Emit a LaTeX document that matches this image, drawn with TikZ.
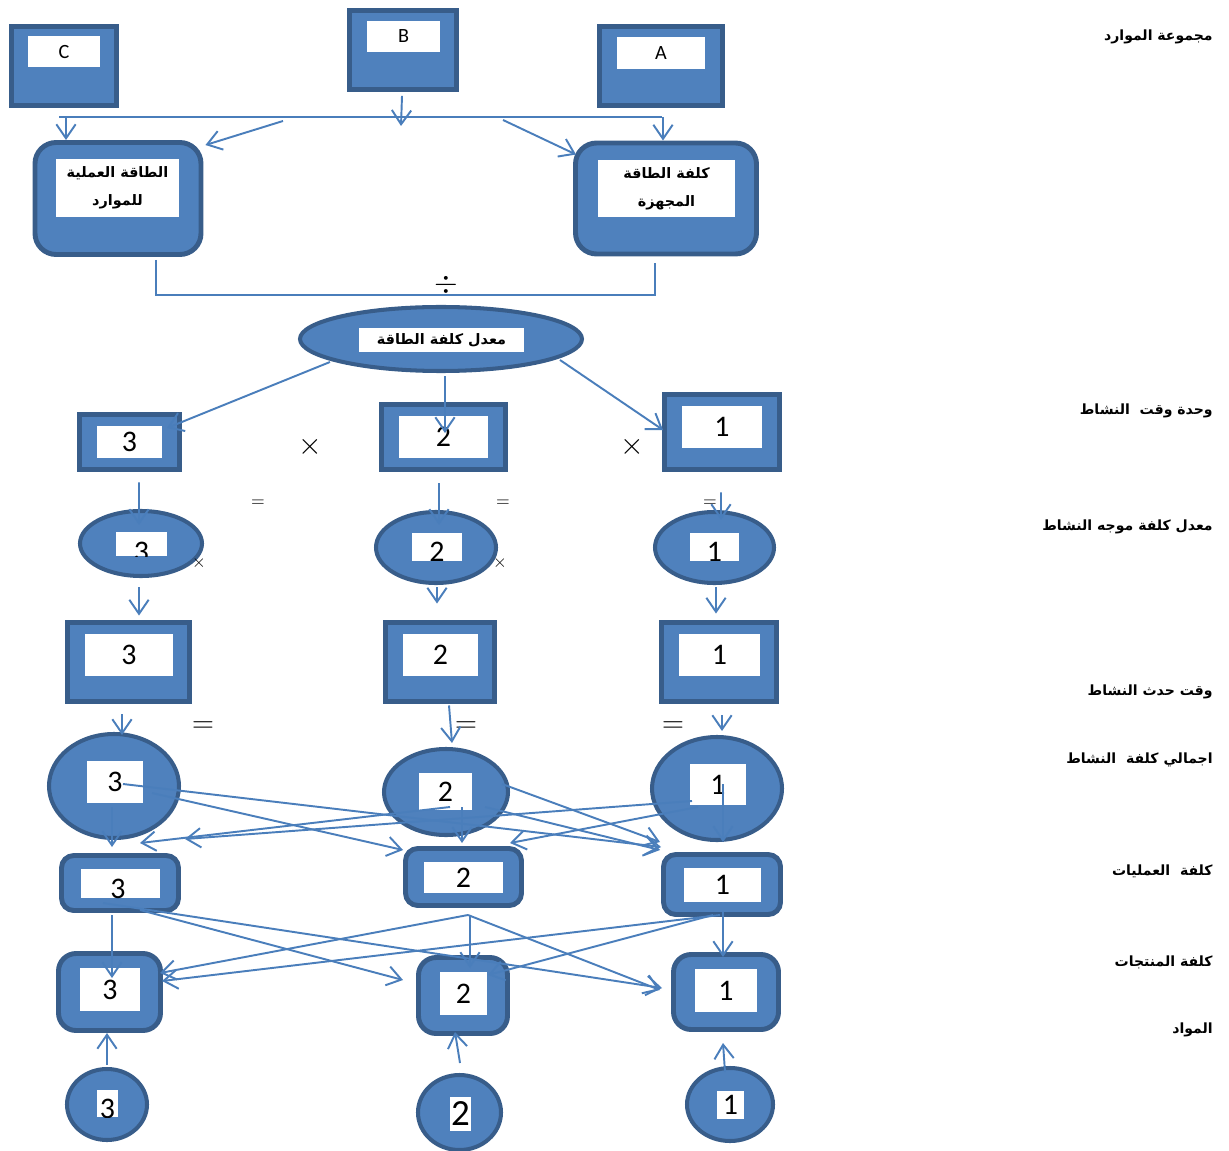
\documentclass[tikz,border=0pt]{standalone}
\usepackage{fontspec}
\usetikzlibrary{shapes.geometric,arrows.meta,calc}
\newfontfamily\arabicfont[Script=Arabic]{DejaVu Sans}
\newfontfamily\numfont{Carlito}
\TeXXeTstate=1
\definecolor{boxblue}{HTML}{4F81BD}
\definecolor{boxedge}{HTML}{385D8A}
\definecolor{linkblue}{HTML}{4A7EBB}
\newcommand{\rtl}[1]{\beginR#1\endR}

\begin{document}
\begin{tikzpicture}[x=0.02cm,y=-0.02cm,
    sz/.style 2 args={minimum width=#1*0.02cm,minimum height=#2*0.02cm},
    unit/.style={draw=boxedge,fill=boxblue,line width=2.8pt,inner sep=0pt},
    runit/.style={unit,rounded corners=7pt},
    bigunit/.style={unit,rounded corners=12pt},
    oval/.style={ellipse,draw=boxedge,fill=boxblue,line width=2.3pt,inner sep=0pt},
    tag/.style={fill=white,inner sep=0pt,font=\numfont\fontsize{17}{17}\selectfont},
    abc/.style={tag,font=\numfont\fontsize{11.5}{12}\selectfont},
    artag/.style={tag,align=center,font=\arabicfont\bfseries\fontsize{8.2}{16}\selectfont},
    side/.style={anchor=east,inner sep=0pt,font=\arabicfont\bfseries\fontsize{8}{9}\selectfont},
    opsign/.style={inner sep=0pt,font=\fontsize{16}{16}\selectfont},
    smallsign/.style={inner sep=0pt,font=\fontsize{10}{10}\selectfont},
    link/.style={draw=linkblue,line width=1.1pt},
    arr/.style={link,-{Straight Barb[length=8pt,width=11pt]}}]
  \useasboundingbox (0,0) rectangle (1229,1151);

  % resource pools
  \node[unit,sz={105}{79}] (resC) at (64,66) {};
  \node[unit,sz={107}{79}] (resB) at (403,50) {};
  \node[unit,sz={123}{79}] (resA) at (661,66) {};
  \node[abc,sz={72}{31}] (resCt) at (64,52) {C};
  \node[abc,sz={73}{31}] (resBt) at (403.5,36.5) {B};
  \node[abc,sz={88}{32}] (resAt) at (661,53) {A};

  % capacity
  \node[bigunit,sz={166}{112}] (labour) at (118,198.5) {};
  \node[bigunit,sz={181}{111}] (equip) at (666,198.5) {};
  \node[artag,sz={123}{58}] (labourt) at (117.5,188) {\rtl{الطاقة العملية}\\\rtl{للموارد}};
  \node[artag,sz={137}{57}] (equipt) at (666.5,188.5) {\rtl{كلفة الطاقة}\\\rtl{المجهزة}};

  \node[oval,sz={282}{64}] (rate) at (441,339) {};
  \node[artag,sz={165}{24}] (ratet) at (441.5,340) {\rtl{معدل كلفة الطاقة}};

  % activity time units
  \node[unit,sz={100}{55}] (ut3) at (129.5,442) {};
  \node[unit,sz={124}{65}] (ut2) at (443.5,437) {};
  \node[unit,sz={115}{75}] (ut1) at (722,432) {};
  \node[tag,sz={65}{32}] (ut3t) at (129.5,442) {3};
  \node[tag,sz={89}{42}] (ut2t) at (443.5,437) {2};
  \node[tag,sz={80}{42}] (ut1t) at (722,427) {1};

  % driver rates
  \node[oval,sz={122}{65}] (dr3) at (141,543.5) {};
  \node[oval,sz={120}{71}] (dr2) at (436,547.5) {};
  \node[oval,sz={119}{71}] (dr1) at (714.5,547.5) {};
  \node[tag,sz={51}{24}] (dr3t) at (141.5,544) {};
  \node[tag,sz={50}{28}] (dr2t) at (437,547) {};
  \node[tag,sz={49}{28}] (dr1t) at (714.5,547) {};
  \begin{scope}
    \clip (dr3t.south west) rectangle (dr3t.north east);
    \node[tag,fill=none] (dr3n) at ($(dr3t)+(0,8)$) {3};
  \end{scope}
  \begin{scope}
    \clip (dr2t.south west) rectangle (dr2t.north east);
    \node[tag,fill=none] (dr2n) at ($(dr2t)+(0,5)$) {2};
  \end{scope}
  \begin{scope}
    \clip (dr1t.south west) rectangle (dr1t.north east);
    \node[tag,fill=none] (dr1n) at ($(dr1t)+(0,5)$) {1};
  \end{scope}

  % event times
  \node[unit,sz={122}{79}] (at3) at (128.5,662) {};
  \node[unit,sz={109}{79}] (at2) at (440,662) {};
  \node[unit,sz={115}{79}] (at1) at (719,662) {};
  \node[tag,sz={88}{42}] (at3t) at (129,655) {3};
  \node[tag,sz={75}{42}] (at2t) at (440.5,655) {2};
  \node[tag,sz={81}{42}] (at1t) at (719.5,655) {1};

  % total activity cost
  \node[oval,sz={130}{104}] (tc3) at (114,786) {};
  \node[oval,sz={124}{86}] (tc2) at (446,792) {};
  \node[oval,sz={130}{103}] (tc1) at (717,788.5) {};
  \node[tag,sz={56}{42}] (tc3t) at (115,782) {3};
  \node[tag,sz={53}{37}] (tc2t) at (445.5,791.5) {2};
  \node[tag,sz={56}{41}] (tc1t) at (718,784.5) {1};

  % operations
  \node[runit,sz={117}{55}] (op3) at (120,883) {};
  \node[runit,sz={116}{57}] (op2) at (463.5,877) {};
  \node[runit,sz={117}{60}] (op1) at (722,884.5) {};
  \node[tag,sz={79}{29}] (op3t) at (120,883.5) {};
  \begin{scope}
    \clip (op3t.south west) rectangle (op3t.north east);
    \node[tag,fill=none] (op3n) at ($(op3t)+(-2,5)$) {3};
  \end{scope}
  \node[tag,sz={79}{31}] (op2t) at (463.5,877.5) {2};
  \node[tag,sz={77}{34}] (op1t) at (722.5,885) {1};

  % products
  \node[runit,sz={102}{77},rounded corners=10pt] (pc3) at (109.5,992) {};
  \node[runit,sz={89}{76},rounded corners=10pt] (pc2) at (463,995.5) {};
  \node[runit,sz={105}{75},rounded corners=10pt] (pc1) at (726,992) {};
  \node[tag,sz={60}{43}] (pc3t) at (110,989.5) {3};
  \node[tag,sz={47}{43}] (pc2t) at (463.5,993.5) {2};
  \node[tag,sz={62}{43}] (pc1t) at (726,990.5) {1};

  % materials
  \node[oval,sz={80}{71}] (m3) at (107,1104.5) {};
  \node[oval,sz={83}{75}] (m2) at (459.5,1112.5) {};
  \node[oval,sz={86}{73}] (m1) at (730,1104.5) {};
  \node[tag,sz={21}{27}] (m3t) at (107.5,1103.5) {};
  \begin{scope}
    \clip (m3t.south west) rectangle (m3t.north east);
    \node[tag,fill=none] (m3n) at ($(m3t)+(0,5)$) {3};
  \end{scope}
  \node[tag,sz={21}{34},font=\numfont\fontsize{21}{21}\selectfont] (m2t) at (460.5,1114) {2};
  \node[tag,sz={27}{28}] (m1t) at (730.5,1105) {1};

  % operators
  \node[opsign] (divsign) at (446,285) {$\div$};
  \node[opsign] (times1) at (310,447) {$\times$};
  \node[opsign] (times2) at (632,447) {$\times$};
  \node[smallsign] (eqa) at (258,503) {$=$};
  \node[smallsign] (eqb) at (503,503) {$=$};
  \node[smallsign] (eqc) at (710,503) {$=$};
  \node[smallsign] (timesa) at (199,563) {$\times$};
  \node[smallsign] (timesb) at (500,563) {$\times$};
  \node[opsign,font=\fontsize{18}{18}\selectfont] (eqd) at (203,727) {$=$};
  \node[opsign,font=\fontsize{18}{18}\selectfont] (eqe) at (466,727) {$=$};
  \node[opsign,font=\fontsize{18}{18}\selectfont] (eqf) at (673,727) {$=$};

  % level names
  \node[side] (lblpool) at (1213,37) {\rtl{مجموعة الموارد}};
  \node[side] (lblunit) at (1213,411) {\rtl{وحدة وقت\ \ النشاط}};
  \node[side] (lbldriver) at (1213,527) {\rtl{معدل كلفة موجه النشاط}};
  \node[side] (lblevent) at (1213,692) {\rtl{وقت حدث النشاط}};
  \node[side] (lbltotal) at (1213,760) {\rtl{اجمالي كلفة\ \ النشاط}};
  \node[side] (lblops) at (1213,871) {\rtl{كلفة\ \ العمليات}};
  \node[side] (lblprod) at (1213,962) {\rtl{كلفة المنتجات}};
  \node[side] (lblmat) at (1213,1030) {\rtl{المواد}};

  % resource bus
  \coordinate (busW) at (59,117);
  \coordinate (busE) at (662,117);
  \coordinate (busC) at (66,117);
  \coordinate (busA) at (663,117);
  \coordinate (busL) at (283,121);
  \coordinate (busR) at (503,120);
  \coordinate (bTip) at (401,126);
  \draw[link] (busW) -- (busE);
  \draw[arr] (busC) -- (busC |- labour.north);
  \draw[arr] (busA) -- (busA |- equip.north);
  \draw[arr] ($(resB.south)+(-1,4)$) -- (bTip);
  \draw[arr] (busL) -- ($(labour.north east)+(2,5)$);
  \draw[arr] (busR) -- ($(equip.north west)+(3,14)$);
  \draw[link] ($(labour.south)+(38,3)$) |- ($(equip.south)+(-11,39)$) -- ($(equip.south)+(-11,7)$);

  \draw[arr] ($(rate)+(-111,23)$) -- ($(ut3)+(37.5,-14)$);
  \draw[arr] ($(rate.south)+(4,3)$) -- ($(ut2)+(1.5,-4)$);
  \draw[arr] ($(rate)+(119,21)$) -- ($(ut1.west)+(1,-2)$);

  \draw[arr] ($(ut3.south)+(9.5,10.5)$) -- ($(dr3.north)+(-2,16)$);
  \draw[arr] ($(ut2.south)+(-4.5,11.5)$) -- ($(dr2.north)+(3,15)$);
  \draw[arr] ($(ut1.south)+(-1,20.5)$) -- ($(dr1.north)+(6.5,10)$);

  \draw[arr] ($(dr3.south)+(-2,9)$) -- ($(at3.north)+(10.5,-4.5)$);
  \draw[arr] ($(dr2.south)+(1,2)$) -- ($(at2.north)+(-3,-16.5)$);
  \draw[arr] ($(dr1.south)+(1.5,2)$) -- ($(at1.north)+(-3,-6.5)$);

  \draw[arr] ($(at3.south)+(-6.5,10.5)$) -- ($(tc3.north)+(8,3)$);
  \draw[arr] ($(at2.south)+(9,1.5)$) -- ($(tc2.north)+(6,-4)$);
  \draw[arr] ($(at1.south)+(3,11.5)$) -- ($(tc1.north)+(5,-4)$);

  % activity cost to operations
  \draw[arr] ($(tc3)+(9,-2)$) -- ($(op1)+(-61,-37.5)$);
  \draw[arr] ($(tc3)+(38,7)$) -- ($(op2)+(-60.5,-27)$);
  \draw[arr] ($(tc2)+(4,15)$) -- ($(op3)+(20,-40)$);
  \draw[arr] ($(tc1)+(-25,12.5)$) -- ($(op3)+(65,-44)$);
  \draw[arr] ($(tc2)+(56,-8)$) -- ($(op1)+(-62,-42.5)$);
  \draw[arr] ($(tc2)+(39,15)$) -- ($(op1)+(-62,-34.5)$);
  \draw[arr] ($(tc1)+(-19,18.5)$) -- ($(op2)+(46.5,-34)$);
  \draw[arr] ($(tc3)+(-2,21)$) -- ($(op3)+(-8,-36)$);
  \draw[arr] ($(tc2)+(16,15)$) -- ($(op2)+(-1.5,-34)$);
  \draw[arr] ($(tc1)+(6,-4.5)$) -- ($(op1)+(1,-42.5)$);

  % operations to products
  \draw[arr] ($(op3)+(-17,20)$) -- ($(pc1)+(-64,-4)$);
  \draw[arr] ($(op3)+(20,27)$) -- ($(pc2)+(-60,-15.5)$);
  \draw[arr] ($(op2)+(4.5,38)$) -- ($(pc3)+(50.5,-19)$);
  \draw[arr] ($(op1)+(-2,30.5)$) -- ($(pc3)+(52.5,-11)$);
  \draw[arr] ($(op2)+(4.5,38)$) -- ($(pc1)+(-66,-2)$);
  \draw[arr] ($(op1)+(-9,30.5)$) -- ($(pc2)+(25,-20.5)$);
  \draw[arr] ($(op2)+(6.5,38)$) -- ($(pc2)+(7,-27.5)$);
  \draw[arr] ($(op1)+(1,27.5)$) -- ($(pc1)+(-3,-35)$);
  \draw[arr] ($(op3)+(-8,32)$) -- ($(pc3)+(2.5,-14)$);

  % materials
  \draw[arr] ($(m3)+(0,-39.5)$) -- ($(pc3)+(-2.5,41)$);
  \draw[arr] ($(m2)+(0.5,-49.5)$) -- ($(pc2)+(-8,36.5)$);
  \draw[arr] ($(m1)+(-5,-32.5)$) -- ($(pc1)+(-3,51)$);
\end{tikzpicture}
\end{document}
